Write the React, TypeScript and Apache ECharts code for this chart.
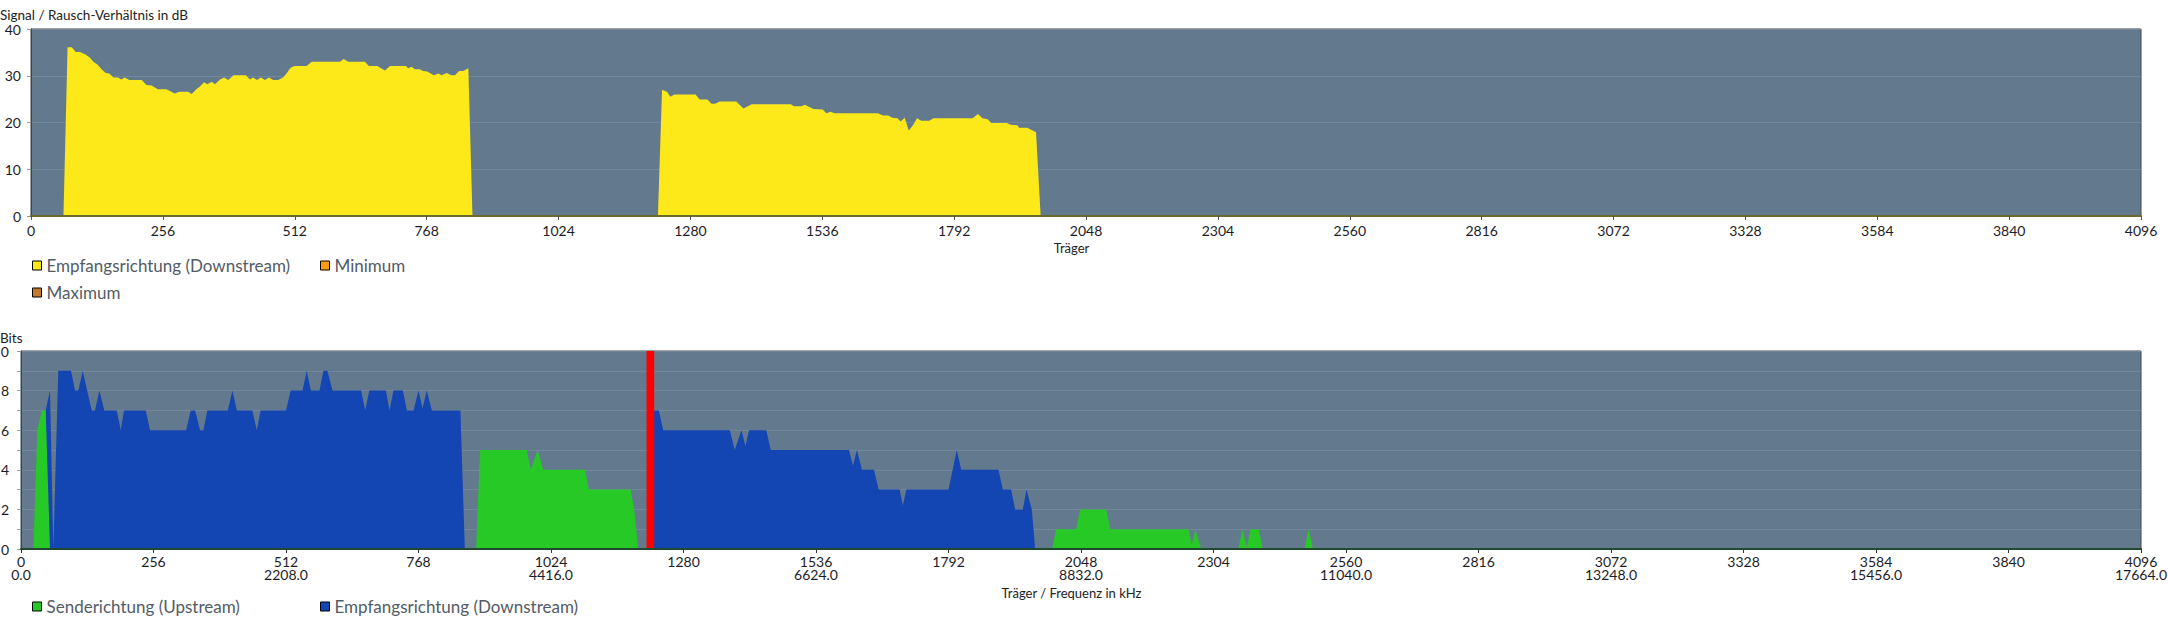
import { useEffect, useRef } from 'react';
import * as echarts from 'echarts';

// carrier ticks / frequency labels
const carrierMax = 4096;
const freqTicks = [0, 512, 1024, 1536, 2048, 2560, 3072, 3584, 4096];
const freqLabels = ['0.0', '2208.0', '4416.0', '6624.0', '8832.0', '11040.0', '13248.0', '15456.0', '17664.0'];

// SNR downstream, [carrier, dB]
const snrDown: [number, number][] = [
  [63, 0], [71, 36.1], [79, 36.1], [87, 35.1], [95, 35.1], [105, 34.6], [114, 33.9], [122, 32.9], [129, 32.4],
  [137, 31.4], [145, 30.6], [152, 30.5], [160, 29.6], [169, 29.6], [175, 29.2], [182, 29.6], [191, 29.1], [215, 29.1],
  [224, 28], [234, 27.9], [246, 27.1], [263, 27.1], [279, 26.2], [288, 26.6], [305, 26.6], [312, 26.1], [322, 27.2],
  [328, 27.7], [336, 28.6], [342, 28.2], [351, 28.7], [357, 28.2], [367, 29.2], [375, 29.6], [383, 29.1], [393, 30.1],
  [417, 30.1], [425, 29.2], [431, 29.6], [439, 29.1], [446, 29.6], [454, 29.1], [462, 29.6], [470, 29.1], [480, 29.1],
  [490, 29.7], [496, 30.5], [504, 31.7], [512, 32.1], [535, 32.1], [545, 33], [600, 33], [607, 33.6], [616, 33],
  [648, 33], [656, 32.1], [672, 32.1], [687, 31.1], [697, 32.1], [728, 32.1], [732, 31.6], [739, 31.9], [745, 31.4],
  [755, 31.4], [761, 31], [769, 30.9], [782, 30.1], [791, 30.5], [797, 30.1], [807, 30.6], [816, 30.1], [823, 30.1],
  [831, 31], [839, 31], [849, 31.6], [857, 0],
  [1217, 0], [1225, 27], [1235, 26.5], [1241, 25.5], [1249, 26], [1290, 26], [1298, 24.9], [1313, 24.9], [1321, 24],
  [1328, 24], [1337, 24.5], [1369, 24.5], [1383, 23], [1399, 23.9], [1475, 23.9], [1481, 23.5], [1496, 23.5],
  [1502, 23.8], [1519, 22.9], [1537, 22.8], [1544, 22], [1552, 22.3], [1560, 22], [1644, 22], [1654, 21.5],
  [1664, 21.5], [1672, 21], [1682, 20.9], [1688, 20.2], [1696, 21], [1704, 18.3], [1712, 19.4], [1720, 20.9],
  [1728, 20.4], [1744, 20.4], [1752, 20.9], [1828, 20.9], [1838, 21.8], [1847, 20.9], [1857, 20.7], [1864, 19.9],
  [1894, 19.9], [1902, 19.5], [1915, 19.4], [1918, 18.9], [1934, 18.9], [1951, 17.9], [1960, 0],
];

// bits per carrier, downstream
const bitsDown: [number, number][] = [
  [40, 0], [47.7, 7], [56, 8], [62.5, 0], [72, 9], [96.6, 9], [104.4, 8], [110.8, 8], [119.2, 9], [136.6, 7], [143, 7],
  [151.4, 8], [161, 7], [185, 7], [192.7, 6], [199, 7], [241, 7], [249.4, 6], [319, 6], [328, 7], [336.3, 7], [346, 6],
  [352.4, 6], [360, 7], [399.5, 7], [408.5, 8], [417, 7], [447, 7], [455.5, 6], [463, 7], [512, 7], [521, 8], [544, 8],
  [552, 9], [560, 8], [576.7, 8], [584.4, 9], [592, 9], [601.8, 8], [657, 8], [665, 7], [673, 8], [705, 8], [712, 7],
  [719.7, 8], [737.8, 8], [745.5, 7], [758.4, 7], [768, 8], [775.8, 7.1], [784, 8], [793.8, 7], [849, 7], [857.5, 0],
  [1210, 0], [1223.4, 7], [1232.4, 7], [1240.8, 6], [1369.4, 6], [1379, 5], [1392, 6], [1399.6, 5.2], [1406.7, 6],
  [1440, 6], [1448.5, 5], [1599.7, 5], [1607.4, 4.2], [1615, 5], [1624.8, 4], [1648, 4], [1657, 3], [1697.5, 3],
  [1703.9, 2.2], [1710.5, 3], [1792, 3], [1808, 5], [1816.5, 4], [1888.6, 4], [1897, 3], [1913, 3], [1920.8, 2],
  [1935.6, 2], [1942.7, 3], [1953, 2], [1959.4, 0],
];

// bits per carrier, upstream
const bitsUp: [number, number][] = [
  [24, 0], [31.6, 6], [40, 7], [47.7, 7], [56, 0], [879.3, 0], [887, 5], [977, 5], [984.8, 4], [998.3, 5], [1009, 4],
  [1089.6, 4], [1097.3, 3], [1177.7, 3], [1184.8, 2], [1192.5, 0], [1992.3, 0], [2000, 1], [2038.6, 1], [2046.3, 2],
  [2096.6, 2], [2105, 1], [2256, 1], [2262, 0.2], [2269, 1], [2280, 0], [2352, 0], [2360, 1], [2368.4, 0.1],
  [2375.4, 1], [2391.5, 1], [2399, 0], [2479.7, 0], [2488, 1], [2496, 0],
];

// pilot tone marker
const pilotBand: [number, number][] = [[1208.6, 0], [1208.6, 10], [1223.4, 10], [1223.4, 0]];

const FONT = 'Lato, sans-serif';
const PLOT_BG = '#637a8e';
const GRID_LINE = '#72879b';
const LABEL = '#1c1c28';

const legendBase = {
  padding: 0,
  itemWidth: 9,
  itemHeight: 9,
  icon: 'rect',
  selectedMode: false,
  itemStyle: { borderColor: '#000', borderWidth: 1 },
  textStyle: { fontSize: 17, color: '#535b66', fontFamily: FONT },
};

function areaSeries(name: string, data: [number, number][], color: string, z = 2) {
  return {
    name,
    type: 'line',
    data,
    color,
    z,
    symbol: 'none',
    showSymbol: false,
    lineStyle: { width: 0, color },
    itemStyle: { color },
    areaStyle: { color, opacity: 1 },
  };
}

function SnrChart() {
  const ref = useRef<HTMLDivElement>(null);
  useEffect(() => {
    if (!ref.current) return;
    const chart = echarts.init(ref.current, undefined, { renderer: 'svg' });
    chart.setOption({
      animation: false,
      textStyle: { fontFamily: FONT },
      title: {
        text: 'Signal / Rausch-Verhältnis in dB',
        left: 0,
        top: 8,
        padding: 0,
        textStyle: { fontSize: 13.5, fontWeight: 'normal', color: '#222', fontFamily: FONT },
      },
      legend: [
        { ...legendBase, data: ['Empfangsrichtung (Downstream)'], left: 32, top: 257 },
        { ...legendBase, data: ['Minimum'], left: 320, top: 257 },
        { ...legendBase, data: ['Maximum'], left: 32, top: 284 },
      ],
      grid: {
        left: 31, right: 27, top: 29, height: 187, outerBoundsMode: 'none',
        show: true, backgroundColor: PLOT_BG, borderColor: '#444', borderWidth: 1,
      },
      xAxis: {
        type: 'value', min: 0, max: carrierMax, interval: 256, z: 5,
        name: 'Träger', nameLocation: 'middle', nameGap: 21,
        nameTextStyle: { fontSize: 13, color: '#222', padding: [0, 29, 0, 0] },
        axisLine: { lineStyle: { color: '#6b6a2e', width: 2 } },
        axisTick: { length: 4, lineStyle: { color: '#555' } },
        axisLabel: { fontSize: 14, margin: 7, color: LABEL, formatter: (v: number) => `${v}` },
        splitLine: { show: false },
      },
      yAxis: {
        type: 'value', min: 0, max: 40, interval: 10,
        axisLine: { show: true, lineStyle: { color: '#444' } },
        axisTick: { show: true, length: 4, lineStyle: { color: '#999' } },
        axisLabel: { fontSize: 14, margin: 10, color: LABEL },
        splitLine: { lineStyle: { color: GRID_LINE } },
      },
      series: [
        areaSeries('Empfangsrichtung (Downstream)', snrDown, '#fde81a'),
        areaSeries('Minimum', [], '#ff9a10'),
        areaSeries('Maximum', [], '#c47a2c'),
      ],
    });
    return () => chart.dispose();
  }, []);
  return <div ref={ref} style={{ position: 'absolute', left: 0, top: 0, width: 2168, height: 320 }} />;
}

function BitsChart() {
  const ref = useRef<HTMLDivElement>(null);
  useEffect(() => {
    if (!ref.current) return;
    const chart = echarts.init(ref.current, undefined, { renderer: 'svg' });
    chart.setOption({
      animation: false,
      textStyle: { fontFamily: FONT },
      title: {
        text: 'Bits',
        left: 0,
        top: 11,
        padding: 0,
        textStyle: { fontSize: 13.5, fontWeight: 'normal', color: '#222', fontFamily: FONT },
      },
      legend: [
        { ...legendBase, data: ['Senderichtung (Upstream)'], left: 32, top: 278 },
        { ...legendBase, data: ['Empfangsrichtung (Downstream)'], left: 320, top: 278 },
      ],
      grid: {
        left: 21, right: 27, top: 31, height: 198, outerBoundsMode: 'none',
        show: true, backgroundColor: PLOT_BG, borderColor: '#444', borderWidth: 1,
      },
      xAxis: {
        type: 'value', min: 0, max: carrierMax, interval: 256, z: 5,
        name: 'Träger / Frequenz in kHz', nameLocation: 'middle', nameGap: 28,
        nameTextStyle: { fontSize: 13, color: '#222', padding: [0, 19, 0, 0] },
        axisLine: { lineStyle: { color: '#1f4a30', width: 2 } },
        axisTick: { length: 4, lineStyle: { color: '#333' } },
        axisLabel: {
          fontSize: 14, margin: 6, lineHeight: 13, color: LABEL,
          formatter: (v: number) => {
            const i = freqTicks.indexOf(v);
            return i >= 0 ? `${v}\n${freqLabels[i]}` : `${v}`;
          },
        },
        splitLine: { show: false },
      },
      yAxis: {
        type: 'value', min: 0, max: 10, interval: 2,
        axisLine: { show: true, lineStyle: { color: '#444' } },
        axisTick: { show: true, length: 4, lineStyle: { color: '#999' } },
        minorTick: { show: true, splitNumber: 2, length: 4, lineStyle: { color: '#999' } },
        axisLabel: { fontSize: 14, margin: 12, color: LABEL },
        splitLine: { lineStyle: { color: GRID_LINE } },
        minorSplitLine: { show: true, lineStyle: { color: GRID_LINE } },
      },
      series: [
        areaSeries('Empfangsrichtung (Downstream)', bitsDown, '#1345b3', 2),
        areaSeries('Senderichtung (Upstream)', bitsUp, '#27c927', 3),
        areaSeries('Pilot', pilotBand, '#ff0000', 4),
      ],
    });
    return () => chart.dispose();
  }, []);
  return <div ref={ref} style={{ position: 'absolute', left: 0, top: 320, width: 2168, height: 301 }} />;
}

export default function App() {
  return (
    <div style={{ position: 'absolute', left: 0, top: 0, width: 2168, height: 621, background: '#fff', overflow: 'hidden' }}>
      <SnrChart />
      <BitsChart />
    </div>
  );
}
